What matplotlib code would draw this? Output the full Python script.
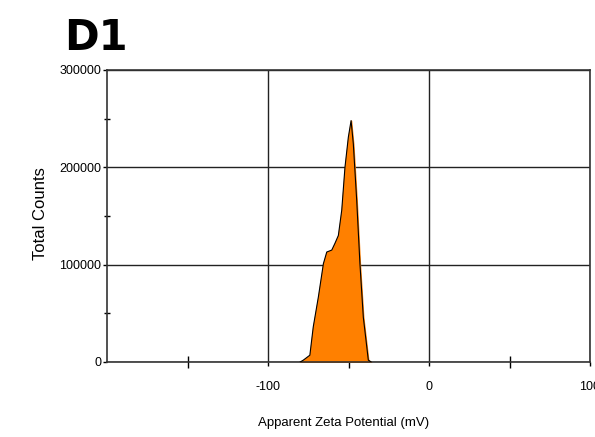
import numpy as np
import matplotlib.pyplot as plt

plt.rcParams['axes.unicode_minus'] = False

# zeta potential distribution
zeta_mv = [-80, -78, -74, -71.9, -68.7, -65.6, -63.5, -60.4, -58.4, -56.3, -54.2,
           -52.2, -50.1, -48.4, -47.0, -44.9, -42.9, -40.8, -39.1, -37.7, -36]
counts = [0, 2000, 7000, 36000, 67000, 101000, 113000, 115000, 122000, 130000, 156000,
          200000, 231000, 248000, 224000, 166000, 101000, 46000, 22000, 2000, 0]

x_major = [-100, 0, 100]
x_minor = [-150, -50, 50]
y_major = [0, 100000, 200000, 300000]
y_minor = [50000, 150000, 250000]

lab_font = 'Liberation Sans'

fig = plt.figure(figsize=(5.95, 4.37), dpi=100)
ax = fig.add_axes([107 / 595, 75 / 437, 483 / 595, 292 / 437])

ax.fill_between(zeta_mv, counts, color='#ff8000', zorder=2)
ax.plot(zeta_mv, counts, color='black', lw=0.8, zorder=3)

ax.set_xlim(-200, 100)
ax.set_ylim(0, 300000)
ax.set_xticks(x_major)
ax.set_xticks(x_minor, minor=True)
ax.set_yticks(y_major)
ax.set_yticks(y_minor, minor=True)
ax.set_yticklabels([str(v) for v in y_major])
ax.grid(True, which='major', color='#222222', lw=1.0, zorder=1)

for s in ax.spines.values():
    s.set_color('#333333')
    s.set_linewidth(1.2)

ax.tick_params(axis='x', which='major', direction='out', length=3, width=1,
               pad=11, labelsize=9)
ax.tick_params(axis='x', which='minor', direction='inout', length=8, width=1)
ax.tick_params(axis='y', which='major', direction='out', length=3, width=1,
               pad=1, labelsize=9)
ax.tick_params(axis='y', which='minor', direction='inout', length=5, width=1)
for lab in ax.get_xticklabels() + ax.get_yticklabels():
    lab.set_family(lab_font)

ax.set_xlabel('Apparent Zeta Potential (mV)', family=lab_font, fontsize=9.5)
ax.xaxis.set_label_coords(0.489, -0.19)
ax.set_ylabel('Total Counts', family=lab_font, fontsize=12)
ax.yaxis.set_label_coords(-0.122, 0.51)

fig.text(64 / 595, 1 - 50 / 437, 'D1', fontsize=30, fontweight='bold',
         family='DejaVu Sans', ha='left', va='baseline')

fig.savefig('out.png', dpi=100)
